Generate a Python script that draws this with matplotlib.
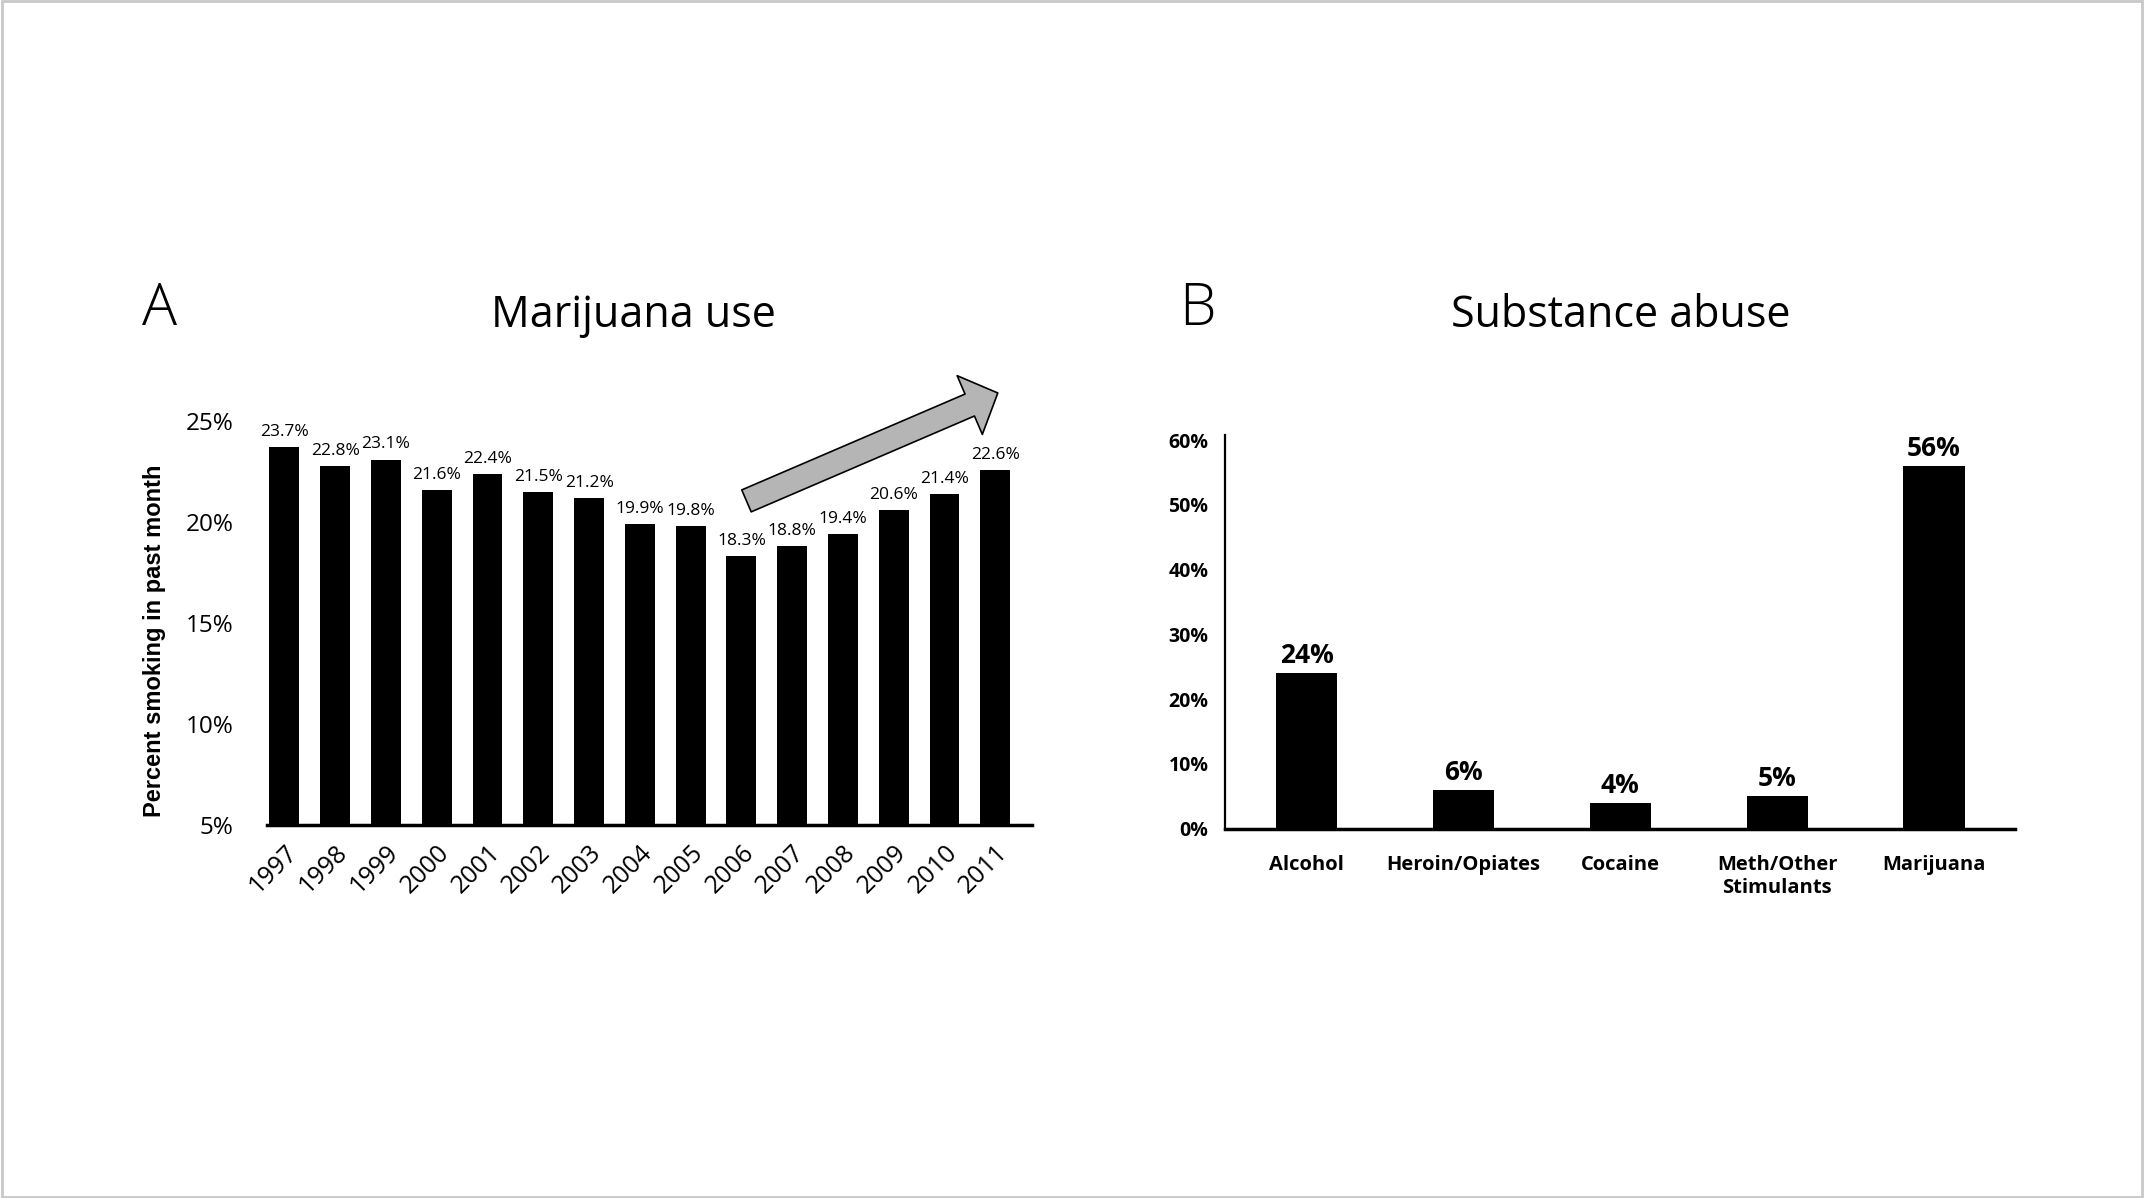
import matplotlib.pyplot as plt
from matplotlib.patches import Rectangle

# Panel A: past-month marijuana use
years = [str(y) for y in range(1997, 2012)]
use_pct = [23.7, 22.8, 23.1, 21.6, 22.4, 21.5, 21.2, 19.9, 19.8, 18.3, 18.8, 19.4, 20.6, 21.4, 22.6]
use_ticks = [5, 10, 15, 20, 25]

# Panel B: substance abuse
substances = ["Alcohol", "Heroin/Opiates", "Cocaine", "Meth/Other\nStimulants", "Marijuana"]
abuse_pct = [24, 6, 4, 5, 56]
abuse_ticks = [0, 10, 20, 30, 40, 50, 60]

plt.rcParams['font.family'] = ['Open Sans', 'DejaVu Sans']

W, H = 1568, 876  # layout measured on a 1568x876 view
fig = plt.figure(figsize=(21.44, 11.98), dpi=100)


def box(x0, y_bot, x1, y_top):
    return [x0 / W, 1 - y_bot / H, (x1 - x0) / W, (y_bot - y_top) / H]


# ---- A ----
ax1 = fig.add_axes(box(195, 603, 755, 308))
x1 = list(range(len(years)))
ax1.bar(x1, use_pct, width=0.59, color='black', bottom=0)
ax1.set_xlim(-0.35, 14.73)
ax1.set_ylim(5, 25)
ax1.set_yticks(use_ticks)
ax1.set_yticklabels([f"{t}%" for t in use_ticks], fontsize=17.5)
ax1.set_xticks(x1)
ax1.set_xticklabels(years, rotation=45, ha='right', rotation_mode='anchor', fontsize=18)
ax1.tick_params(axis='y', length=0, pad=24)
ax1.tick_params(axis='x', length=0, pad=11)
for s in ['top', 'right', 'left']:
    ax1.spines[s].set_visible(False)
ax1.spines['bottom'].set_linewidth(2.5)
for xi, v in zip(x1, use_pct):
    ax1.text(xi, v + 0.35, f"{v}%", ha='center', va='bottom', fontsize=12.5)
ax1.set_ylabel("Percent smoking in past month", fontsize=17, fontweight='bold',
               family=['Liberation Sans', 'DejaVu Sans'])
ax1.yaxis.set_label_coords(-0.132, 0.455)
ax1.annotate('', xy=(14.05, 26.4), xytext=(9.1, 21.05), annotation_clip=False,
             arrowprops=dict(arrowstyle='simple,head_length=1.1,head_width=2.3,tail_width=0.86',
                             mutation_scale=20, fc='#b5b5b5', ec='black', lw=1.2,
                             shrinkA=0, shrinkB=0))

# ---- B ----
ax2 = fig.add_axes(box(896, 606, 1474, 318))
x2 = list(range(len(substances)))
ax2.bar(x2, abuse_pct, width=0.39, color='black')
ax2.set_xlim(-0.52, 4.52)
ax2.set_ylim(0, 60.8)
ax2.set_yticks(abuse_ticks)
ax2.set_yticklabels([f"{t}%" for t in abuse_ticks], fontsize=14, fontweight='bold')
ax2.set_xticks(x2)
ax2.set_xticklabels(substances, fontsize=14.5, fontweight='bold', linespacing=1.2, va='top')
ax2.tick_params(axis='y', length=0, pad=12)
ax2.tick_params(axis='x', length=0, pad=19)
for s in ['top', 'right']:
    ax2.spines[s].set_visible(False)
ax2.spines['bottom'].set_linewidth(2.5)
ax2.spines['left'].set_linewidth(1.6)
for xi, v in zip(x2, abuse_pct):
    ax2.text(xi, v + 0.6, f"{v}%", ha='center', va='bottom', fontsize=19, fontweight='bold')

# titles and panel letters
fig.text(463 / W, 1 - 231 / H, "Marijuana use", ha='center', va='center', fontsize=31)
fig.text(1185 / W, 1 - 231 / H, "Substance abuse", ha='center', va='center', fontsize=31)
fig.text(117 / W, 1 - 226 / H, "A", ha='center', va='center', fontsize=42, fontweight='light')
fig.text(876 / W, 1 - 226 / H, "B", ha='center', va='center', fontsize=42, fontweight='light')

# thin frame round the slide
fig.add_artist(Rectangle((0.001, 0.001), 0.998, 0.998, transform=fig.transFigure,
                         fill=False, ec='#c8c8c8', lw=2))

fig.savefig("out.png", dpi=100)
